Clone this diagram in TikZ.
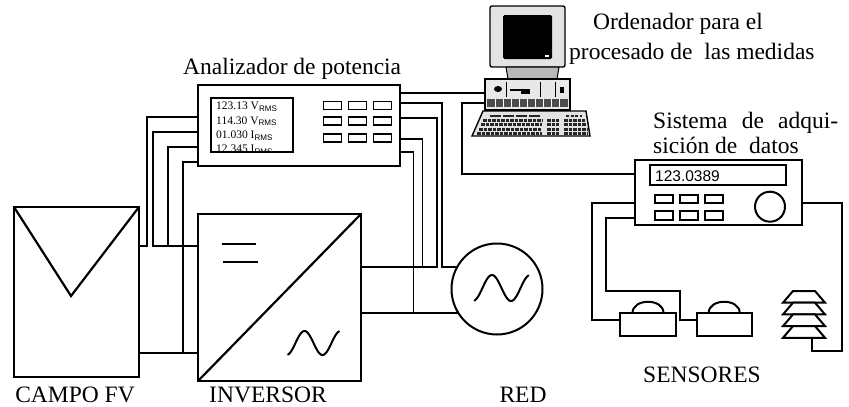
\documentclass[tikz,border=0pt]{standalone}
\usepackage{fontspec}
\setmainfont{Liberation Serif}
\newfontfamily\arialfont{Liberation Sans}
\usetikzlibrary{calc}
\newcommand{\rms}{\textsubscript{\arialfont RMS}}

\tikzset{
  device/.style={draw, line width=2.2pt, fill=white, inner sep=0pt, outer sep=0pt, anchor=north west},
  wire/.style={line width=2pt},
  keybox/.style={draw, line width=1.8pt, minimum width=18pt, minimum height=8pt, inner sep=0pt},
  lbl/.style={font=\fontsize{23.5}{28}\selectfont, inner sep=0pt},
}

\begin{document}
\begin{tikzpicture}[x=1pt, y=-1pt, line join=miter]
\useasboundingbox (0,0) rectangle (849,407);

% campo fotovoltaico
\node[device, minimum width=125pt, minimum height=170pt] (fv) at (14,207) {};
\draw[line width=2.2pt] (fv.north west) -- (71,296) -- (fv.north east);

% inversor
\node[device, minimum width=163pt, minimum height=167pt] (inv) at (198,214) {};
\draw[line width=2.2pt] (inv.south west) -- (inv.north east);
\draw[line width=2pt] (222,244) -- (256,244) (223,262) -- (258,262);
\draw[line width=2pt, line cap=round] plot[domain=-75:435, samples=60] ({288+(\x+75)/510*51}, {343-12*sin(\x)});

% analizador de potencia
\node[device, minimum width=202pt, minimum height=81pt] (ana) at (198,85) {};
\node[device, line width=2pt, minimum width=82pt, minimum height=54pt] (anadisp) at (211,98) {};
\begin{scope}
  \clip (anadisp.north west) rectangle (anadisp.south east);
  \foreach \val/\mag/\yb [count=\n] in {123.13/V/109.5, 114.30/V/124, 01.030/I/138.5, 12.345/I/152.5}
    \node[anchor=base west, inner sep=0pt, font=\fontsize{11.5}{13}\selectfont] (read\n) at (216,\yb) {\val\ \mag\rms};
\end{scope}
\foreach \i/\cx in {1/332.5, 2/357.5, 3/382.5}
  \foreach \j/\cy in {1/105.5, 2/121, 3/138}
    \node[keybox] (akey\i\j) at (\cx,\cy) {};

% ordenador
\draw[line width=1.4pt, fill=gray!22, rounded corners=2pt] (490,6) rectangle (565,67);
\fill[black, rounded corners=1.5pt] (503,15) rectangle (552,59);
\fill[white] (545,55) rectangle (549,57);
\draw[line width=1pt, fill=gray!55] (506,67) -- (559,67) -- (557,79) -- (508,79) -- cycle;
\node[device, line width=1.4pt, fill=gray!18, minimum width=85pt, minimum height=31pt] (pc) at (485,79) {};
\fill (498,89) ellipse (4 and 3);
\draw[line width=0.6pt] (506,82) -- (506,97) (540,82) -- (540,97) (555,82) -- (555,97);
\draw[line width=1.4pt] (510,90) -- (530,90);
\fill (521,91) rectangle (530,94);
\fill (560,87) rectangle (564,93);
\fill[black!70] (487,99) rectangle (568,107);
\foreach \x in {495,503,...,563}
  \draw[white, line width=0.8pt] (\x,99) -- (\x,107);
\draw[line width=1.4pt, fill=gray!22] (483,111) -- (586,111) -- (590,136) -- (472,136) -- cycle;
\draw[black!85, line width=2pt, dash pattern=on 11pt off 2pt] (490,115.5) -- (540,115.5);
\draw[black!85, line width=2pt, dash pattern=on 3pt off 1.5pt] (566,115.5) -- (582,115.5);
\foreach \y in {120,124.5,129,133} {
  \draw[black!85, line width=3pt, dash pattern=on 3.5pt off 1pt] ({487-0.44*(\y-111)},\y) -- (542,\y);
  \draw[black!85, line width=3pt, dash pattern=on 3.5pt off 1pt] (547,\y) -- (559,\y);
  \draw[black!85, line width=3pt, dash pattern=on 3.5pt off 1pt] (564,\y) -- ({584+0.15*(\y-111)},\y);
}

% sistema de adquisicion
\node[device, minimum width=167pt, minimum height=65pt] (daq) at (635,160) {};
\node[device, line width=2pt, minimum width=136pt, minimum height=20pt] (daqdisp) at (649.5,165) {};
\node[anchor=base west, inner sep=0pt, font=\arialfont\fontsize{15.5}{18}\selectfont] (daqval) at (655,181) {123.0389};
\foreach \i/\cx in {1/664, 2/689, 3/714}
  \foreach \j/\cy in {1/199, 2/215.5}
    \node[keybox, minimum height=8.5pt] (dkey\i\j) at (\cx,\cy) {};
\node[draw, circle, line width=2pt, minimum size=30pt, inner sep=0pt] (knob) at (770,206.7) {};

% sensores
\node[device, line width=2pt, minimum width=56pt, minimum height=23pt] (sen1) at (620,313) {};
\node[device, line width=2pt, minimum width=55pt, minimum height=23pt] (sen2) at (696.7,313) {};
\foreach \s in {sen1, sen2}
  \draw[line width=2pt] ($(\s.north)+(-15.5,0)$) .. controls +(0,-15) and +(0,-15) .. ($(\s.north)+(15.5,0)$);

% cableado
\coordinate (la) at (146.7,117.3);
\coordinate (lb) at (152.7,132.3);
\coordinate (lc) at (167.7,147.3);
\coordinate (ld) at (182.7,162.3);
\coordinate (dcp) at (0,245.7);
\coordinate (dcn) at (0,353.3);

\coordinate (ra) at (441.7,103.3);
\coordinate (rb) at (436.7,117.7);
\coordinate (rc) at (422.3,139);
\coordinate (rd) at (413.3,151.7);
\coordinate (acl) at (0,266.7);
\coordinate (acn) at (0,313.3);
\coordinate (redc) at (497,289);

\coordinate (pa) at (0,93);
\coordinate (pb) at (461.7,102.7);
\coordinate (qa) at (0,174);

\coordinate (sa) at (591.7,202.7);
\coordinate (sb) at (606,217.7);
\coordinate (sc) at (680,290.7);
\coordinate (sy) at (0,320);
\coordinate (td) at (841.7,202.7);
\coordinate (pole) at (812,350.5);
\coordinate (shb) at (812,337.8);

\draw[wire] (ana.west |- la) -| (la |- dcp) -- (fv.east |- dcp);
\draw[wire] (ana.west |- lb) -| (lb |- dcp) -- (inv.west |- dcp);
\draw[wire] (ana.west |- lc) -| (lc |- dcp);
\draw[wire] (ana.west |- ld) -| (ld |- dcn);
\draw[wire] (fv.east |- dcn) -- (inv.west |- dcn);

\draw[wire] (ana.east |- ra) -| (ra |- acl) -- (redc |- acl);
\draw[wire] (ana.east |- rb) -| (rb |- acl) -- (inv.east |- acl);
\draw[wire, line width=1.6pt] (ana.east |- rc) -| (rc |- acl);
\draw[wire, line width=1.6pt] (ana.east |- rd) -| (rd |- acn);
\draw[wire] (inv.east |- acn) -- (redc |- acn);

\draw[wire] (ana.east |- pa) -- (pc.west |- pa);
\draw[wire] (pc.west |- pb) -- (pb) |- (daq.west |- qa);

\draw[wire] (daq.west |- sa) -| (sa |- sy) -- (sen1.west |- sy);
\draw[wire] (daq.west |- sb) -| (sb |- sc) -| (sc |- sy) -- (sen2.west |- sy);
\draw[wire] (daq.east |- td) -| (pole -| td) -- (pole) -- (shb);

% red
\node[draw, circle, line width=2pt, fill=white, minimum size=91pt, inner sep=0pt] (red) at (redc) {};
\draw[line width=2pt, line cap=round] plot[domain=-75:435, samples=60] ({474.5+(\x+75)/510*54}, {288-13*sin(\x)});

% garita meteorologica
\foreach \k in {0,...,3}
  \draw[line width=2pt, fill=white] (793,{291+11.7*\k}) -- (815,{291+11.7*\k}) -- (825,{302.7+11.7*\k}) -- (783,{302.7+11.7*\k}) -- cycle;

% textos
\node[lbl, anchor=base west] (analbl) at (183,74) {Analizador de potencia};
\node[lbl, anchor=base west] (pclbl1) at (593,29) {Ordenador para el};
\node[lbl, anchor=base west] (pclbl2) at (569,59) {procesado de\ \ las medidas};
\node[lbl, anchor=base west] (daqlbl1) at (653,128) {\makebox[185pt][s]{Sistema de adqui-}};
\node[lbl, anchor=base west] (daqlbl2) at (653,153) {sición de\ \ datos};
\node[lbl, anchor=base] (fvlbl) at (75,402.5) {CAMPO FV};
\node[lbl, anchor=base] (invlbl) at (268,402.5) {INVERSOR};
\node[lbl, anchor=base] (redlbl) at (523,402.5) {RED};
\node[lbl, anchor=base] (senlbl) at (702,382.5) {SENSORES};
\end{tikzpicture}
\end{document}
